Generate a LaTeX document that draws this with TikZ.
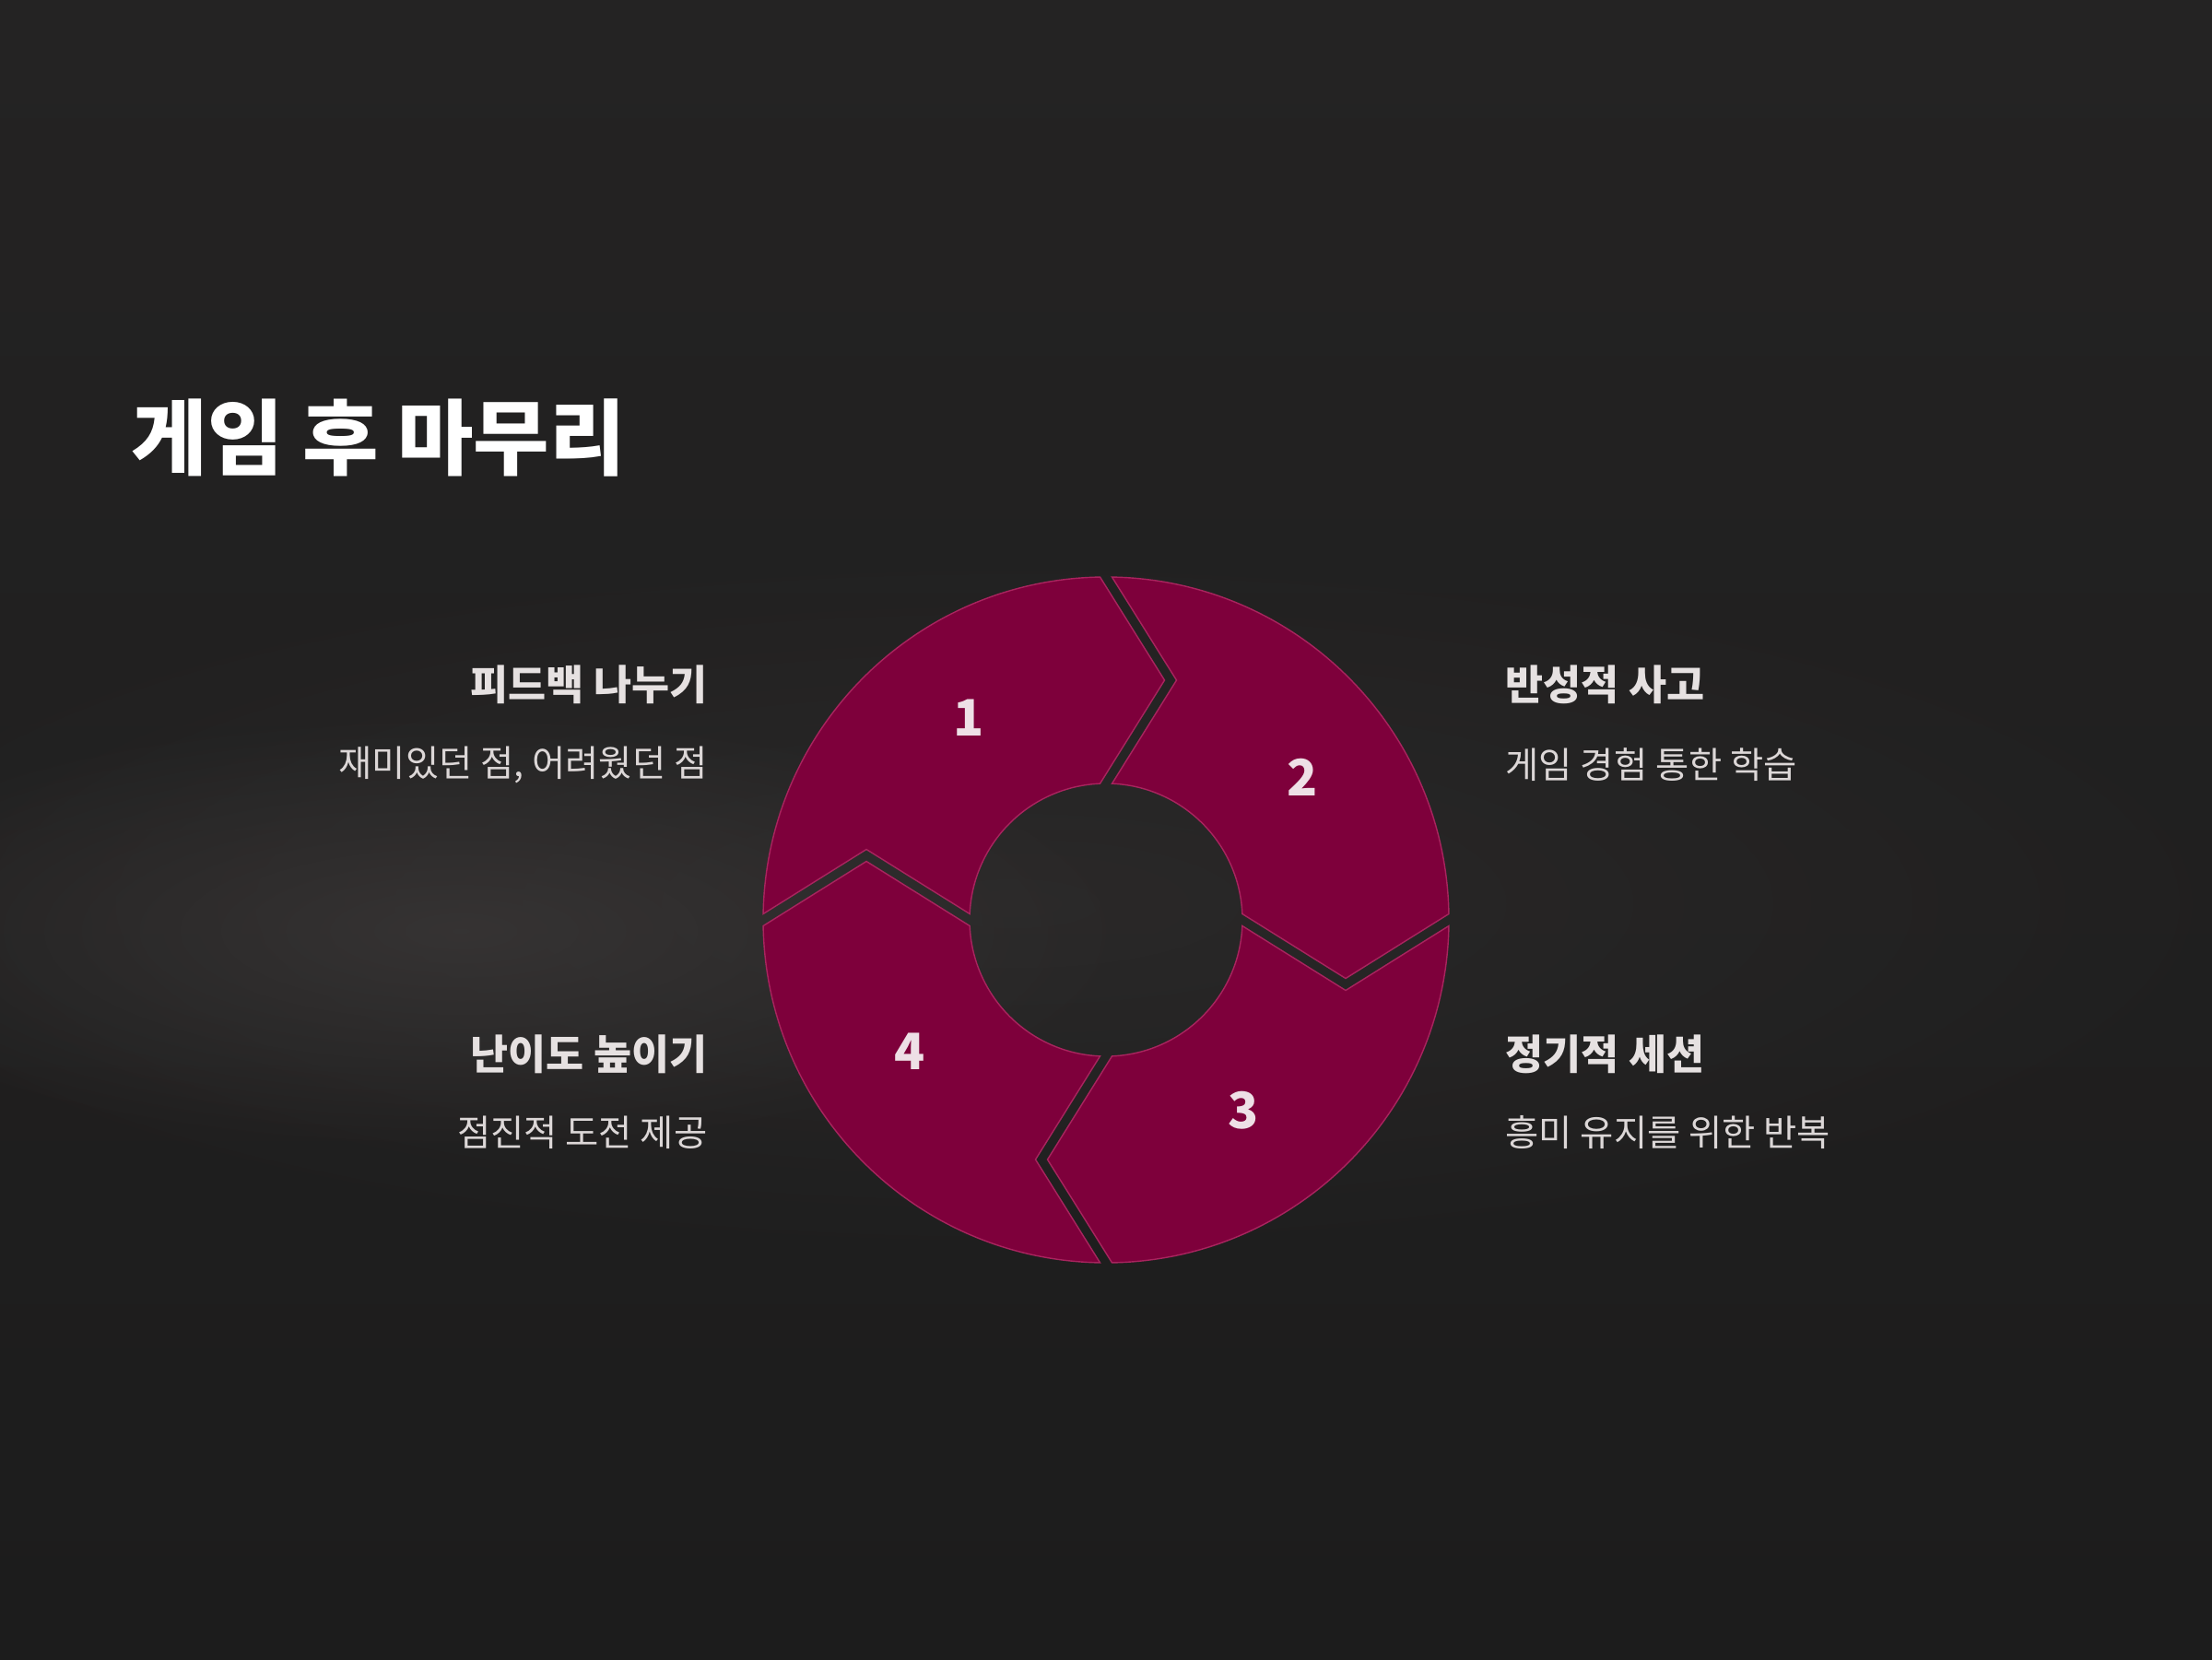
\documentclass[tikz,border=0pt]{standalone}
\usepackage{fontspec}
\setmainfont{Noto Sans CJK KR}[RawFeature=+palt]
\usetikzlibrary{fadings}

\definecolor{bgtop}{HTML}{242323}
\definecolor{bgbot}{HTML}{1C1C1C}
\definecolor{glowc}{HTML}{3A3737}
\definecolor{segfill}{HTML}{7E003B}
\definecolor{segline}{HTML}{A8245E}
\definecolor{headc}{HTML}{E6E1E1}
\definecolor{subc}{HTML}{DCD7D7}
\definecolor{numc}{HTML}{EEE0E6}

\tikzfading[name=glowfade, inner color=transparent!20, outer color=transparent!100]

\tikzset{
  seg/.style = {fill=segfill, draw=segline, line width=0.4pt, line join=miter},
  num/.style = {text=numc, font=\fontsize{15.5}{18}\selectfont\bfseries, inner sep=0pt},
  head/.style = {text=headc, font=\fontsize{12.7}{15}\selectfont\bfseries, inner sep=0pt},
  sub/.style = {text=subc, font=\fontsize{11.2}{14}\selectfont, inner sep=0pt},
}

\begin{document}
\begin{tikzpicture}
   \useasboundingbox (0,0) rectangle (24,18);
   \shade[top color=bgtop, bottom color=bgbot] (0,0) rectangle (24,18);
   \fill[glowc, path fading=glowfade, opacity=0.5] (11,8.2) ellipse [x radius=14, y radius=4];
   \fill[glowc, path fading=glowfade] (5,7.9) ellipse [x radius=7.5, y radius=2.4];

   \node[anchor=west, text=white, font=\fontsize{25.5}{30}\selectfont\bfseries, inner sep=0pt] (title) at (1.42,13.25) {게임 후 마무리};

   \coordinate (c) at (12,8.02);
   % ring of four arrow segments
   \foreach \k in {1,...,4}{
      \begin{scope}[shift={(c)}, rotate={-90*(\k-1)}]
         \path[seg] (91:3.72) arc[start angle=91, end angle=179, radius=3.72]
            -- (-2.60,0.765) -- (177.48:1.48) arc[start angle=177.48, end angle=92.52, radius=1.48]
            -- (0.635,2.60) -- cycle;
      \end{scope}
      \node[num] (num\k) at ([shift={({215-90*\k}:2.6)}, yshift=0.06cm]c) {\k};
   }

   \node[head, anchor=east] (h1) at (7.68,10.57) {피드백 나누기};
   \node[sub, anchor=east] (s1) at (7.68,9.70) {재미있던 점, 어려웠던 점};
   \node[head, anchor=west] (h2) at (16.33,10.57) {반성적 사고};
   \node[sub, anchor=west] (s2) at (16.33,9.70) {게임 경험 통한 학습};
   \node[head, anchor=west] (h3) at (16.33,6.56) {정기적 세션};
   \node[sub, anchor=west] (s3) at (16.33,5.71) {흥미 유지를 위한 반복};
   \node[head, anchor=east] (h4) at (7.68,6.56) {난이도 높이기};
   \node[sub, anchor=east] (s4) at (7.68,5.71) {점진적 도전 제공};
\end{tikzpicture}
\end{document}
